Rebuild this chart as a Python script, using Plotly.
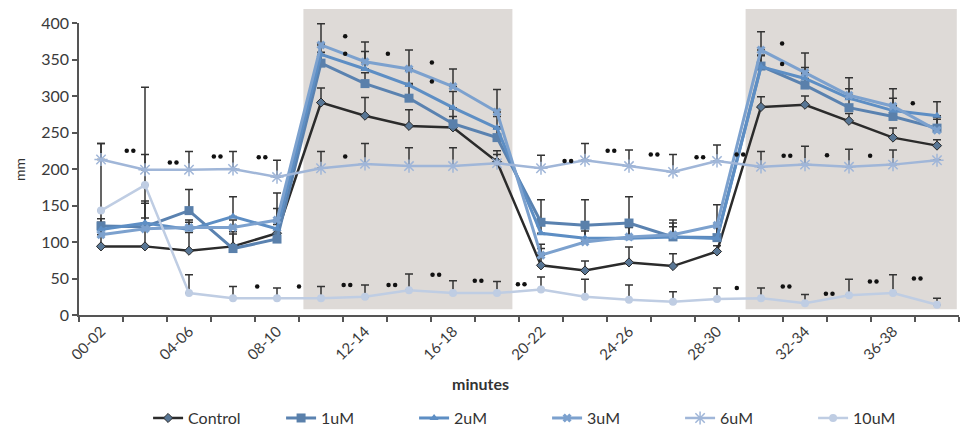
import plotly.graph_objects as go

categories = ["00-02", "02-04", "04-06", "06-08", "08-10", "10-12", "12-14", "14-16", "16-18", "18-20",
              "20-22", "22-24", "24-26", "26-28", "28-30", "30-32", "32-34", "34-36", "36-38", "38-40"]
tick_labels = ["00-02", "04-06", "08-10", "12-14", "16-18", "20-22", "24-26", "28-30", "32-34", "36-38"]

control = [94, 94, 88, 94, 112, 291, 273, 259, 257, 210, 68, 61, 72, 67, 87, 285, 288, 266, 243, 232]
control_err = [141, 218, 25, 20, 15, 20, 25, 22, 15, 10, 23, 13, 21, 17, 8, 14, 12, 10, 13, 8]
um1 = [122, 121, 143, 91, 104, 345, 317, 297, 262, 243, 127, 123, 126, 107, 106, 341, 315, 284, 272, 256]
um1_err = [10, 35, 29, 20, 20, 15, 15, 20, 20, 15, 31, 35, 36, 14, 15, 15, 15, 15, 15, 15]
um2 = [117, 126, 117, 135, 118, 357, 337, 315, 284, 256, 112, 105, 105, 107, 105, 340, 324, 297, 280, 273]
um2_err = [10, 27, 10, 27, 28, 15, 24, 20, 22, 16, 15, 15, 15, 19, 15, 15, 15, 13, 17, 19]
um3 = [110, 118, 120, 120, 130, 370, 347, 337, 313, 278, 82, 100, 107, 110, 123, 363, 332, 301, 286, 253]
um3_err = [10, 15, 10, 10, 37, 29, 27, 26, 24, 31, 15, 15, 15, 20, 28, 25, 27, 24, 24, 15]
um6 = [213, 199, 199, 200, 189, 201, 207, 204, 204, 208, 201, 212, 204, 196, 211, 203, 206, 203, 206, 212]
um6_err = [22, 21, 25, 24, 23, 23, 28, 25, 25, 17, 18, 23, 22, 24, 22, 21, 25, 24, 20, 0]
um10 = [143, 178, 30, 23, 23, 23, 25, 34, 30, 30, 35, 25, 21, 18, 22, 23, 16, 27, 30, 14]
um10_err = [0, 0, 25, 16, 14, 16, 16, 22, 17, 16, 17, 24, 20, 14, 15, 14, 12, 22, 25, 9]

# significance dots (category position, value, number of dots)
sig_x = [0.66, 1.64, 2.64, 3.66, 3.55, 4.5, 5.59, 6.61, 7.61, 8.57, 9.55, 14.45, 15.57, 16.55, 17.55,
         18.55, 19.52, 5.55, 5.55, 6.52, 7.52, 7.52, 5.55, 10.61, 11.59, 12.57, 13.61, 14.52, 15.48,
         15.48, 15.59, 16.5, 17.48, 18.45]
sig_y = [225, 209, 217, 216, 39, 39, 41, 41, 55, 47, 42, 37, 39, 29, 46,
         50, 27, 382, 358, 358, 346, 320, 217, 211, 225, 220, 216, 220, 372,
         344, 218, 219, 218, 290]
sig_n = [2, 2, 2, 2, 1, 1, 2, 2, 2, 2, 2, 1, 2, 2, 2,
         2, 1, 1, 1, 1, 1, 1, 1, 2, 2, 2, 2, 2, 1,
         1, 2, 1, 1, 1]

shade_ranges = [(4.6, 9.35), (14.65, 19.45)]

FONT = "Lato"
x = list(range(len(categories)))

series = [
    ("Control", control, control_err, "#2b2b2b", 2.5,
     dict(symbol="diamond", size=7, color="#587695", line=dict(color="#2a2a2a", width=1))),
    ("1uM", um1, um1_err, "#5a82b0", 3,
     dict(symbol="square", size=9, color="#5a80ab")),
    ("2uM", um2, um2_err, "#5d8ec4", 3,
     dict(symbol="triangle-up", size=8, color="#5d8ec4")),
    ("3uM", um3, um3_err, "#7ca1ce", 3,
     dict(symbol="x", size=8, color="#7ca1ce")),
    ("6uM", um6, um6_err, "#a0b6d8", 2.5,
     dict(symbol="asterisk-open", size=11, color="#a0b6d8", line=dict(color="#a0b6d8", width=1.5))),
    ("10uM", um10, um10_err, "#bfcde3", 2.5,
     dict(symbol="circle", size=8, color="#bfcde3")),
]

fig = go.Figure()

# error bars (upper only), drawn beneath lines
for name, vals, errs, col, lw, mk in series:
    fig.add_trace(go.Scatter(
        x=x, y=vals, mode="markers", marker=dict(size=1, opacity=0),
        error_y=dict(type="data", symmetric=False, array=errs, arrayminus=[0] * len(errs),
                     color="#333333", thickness=1.5, width=4),
        showlegend=False, hoverinfo="skip"))

for name, vals, errs, col, lw, mk in series:
    fig.add_trace(go.Scatter(
        x=x, y=vals, mode="lines+markers", name=name,
        line=dict(color=col, width=lw), marker=mk))

# significance dots
dx, dy = [], []
for sx, sy, n in zip(sig_x, sig_y, sig_n):
    if n == 1:
        dx.append(sx); dy.append(sy)
    else:
        dx.extend([sx - 0.075, sx + 0.075]); dy.extend([sy, sy])
fig.add_trace(go.Scatter(x=dx, y=dy, mode="markers", marker=dict(size=4.5, color="#111111"),
                         showlegend=False, hoverinfo="skip", cliponaxis=False))

n = len(categories)
shapes = []
for a, b in shade_ranges:
    shapes.append(dict(type="rect", xref="paper", yref="paper",
                       x0=(a + 0.5) / n, x1=(b + 0.5) / n, y0=0.02, y1=1.048,
                       fillcolor="#dedad7", line=dict(width=0), layer="below"))

fig.update_layout(
    width=963, height=428,
    margin=dict(l=79, r=4, t=23, b=113, autoexpand=False),
    paper_bgcolor="white", plot_bgcolor="white",
    font=dict(family=FONT, size=12, color="#444444"),
    shapes=shapes,
    showlegend=True,
    legend=dict(orientation="h", x=0.0785, xanchor="left", y=-0.353, yanchor="middle",
                font=dict(family=FONT, size=16, color="#333333"), entrywidth=88,
                bgcolor="rgba(0,0,0,0)"),
    annotations=[
        dict(text="<b>minutes</b>", xref="paper", yref="paper", x=0.456, y=-0.233, showarrow=False,
             font=dict(family=FONT, size=16, color="#333333"), xanchor="center", yanchor="middle"),
        dict(text="mm", xref="paper", yref="paper", x=-0.067, y=0.497, showarrow=False,
             textangle=-90, font=dict(family=FONT, size=14, color="#333333"),
             xanchor="center", yanchor="middle"),
    ],
)

fig.update_xaxes(
    range=[-0.5, n - 0.5], showgrid=False, zeroline=False, automargin=False,
    showline=True, linecolor="#555555", linewidth=1.5,
    tickmode="array", tickvals=[categories.index(t) for t in tick_labels], ticktext=tick_labels,
    ticks="", tickangle=-45, tickfont=dict(family=FONT, size=15, color="#3a3a3a"),
    minor=dict(tickmode="array", tickvals=[i - 0.5 for i in range(n + 1)],
               ticks="outside", ticklen=5, tickcolor="#555555", tickwidth=1.5, showgrid=False),
)
fig.update_yaxes(
    range=[0, 400], dtick=50, showgrid=False, zeroline=False, automargin=False,
    showline=True, linecolor="#555555", linewidth=1.5,
    ticks="outside", ticklen=5, tickcolor="#555555", tickwidth=1.5,
    tickfont=dict(family=FONT, size=16, color="#3a3a3a"),
)

fig.write_html("out.html", config={"displayModeBar": False},
               post_script="document.body.style.margin='0';")
